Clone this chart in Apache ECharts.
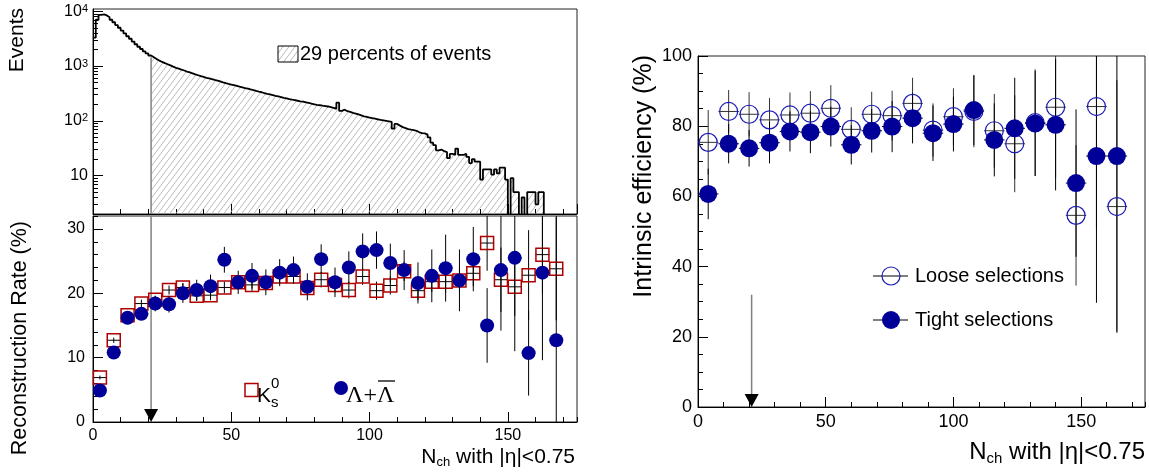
<!DOCTYPE html>
<html>
<head>
<meta charset="utf-8">
<script src="https://cdn.jsdelivr.net/npm/echarts@6/dist/echarts.min.js"></script>
<style>
html, body { margin: 0; padding: 0; background: #fff; }
#chart { width: 1149px; height: 475px; }
</style>
</head>
<body>
<div id="chart"></div>
<script>
// events per unit bin of N_ch, bin i covers [i, i+1)
var histEvents = [
  3300, 7000, 8600, 8800, 8400, 7800, 7000, 6300, 5600, 5000,
  4450, 3950, 3500, 3150, 2800, 2500, 2250, 2050, 1850, 1700,
  1560, 1450, 1340, 1260, 1190, 1130, 1080, 1030, 975, 930,
  895, 860, 830, 795, 765, 735, 705, 680, 655, 635,
  610, 595, 578, 560, 545, 525, 505, 488, 472, 460,
  448, 435, 422, 410, 398, 388, 376, 365, 352, 342,
  333, 322, 312, 304, 296, 287, 280, 272, 264, 257,
  250, 244, 239, 233, 228, 224, 218, 212, 206, 201,
  196, 193, 189, 186, 183, 178, 172, 166, 215, 152,
  160, 150, 146, 140, 136, 131, 126, 121, 118, 115,
  112, 110, 107, 104, 102, 100, 98, 96, 72, 88,
  82, 77, 74, 71, 69, 68, 66, 62, 60, 59,
  56, 50, 40, 36, 29, 30, 28, 27, 21, 25,
  24, 31, 24, 24, 25, 22, 17, 20, 18, 18,
  8.5, 13, 13, 13, 10.5, 13, 11, 14, 14, 8.5,
  0, 9, 5, 5, 0, 4, 0, 5, 5, 5,
  3, 5, 5, 0, 0, 0, 0, 0, 0, 0,
  0, 0, 0, 0, 0
];
var cutNch = 21;
var logMajorTicks = [10, 100, 1000, 10000];
var logMinorTicks = [2, 3, 4, 5, 6, 7, 8, 9, 20, 30, 40, 50, 60, 70, 80, 90,
  200, 300, 400, 500, 600, 700, 800, 900, 2000, 3000, 4000, 5000, 6000, 7000, 8000, 9000];

// reconstruction rate vs N_ch (bins of 5)
var rateNch = [2.5, 7.5, 12.5, 17.5, 22.5, 27.5, 32.5, 37.5, 42.5, 47.5,
  52.5, 57.5, 62.5, 67.5, 72.5, 77.5, 82.5, 87.5, 92.5, 97.5,
  102.5, 107.5, 112.5, 117.5, 122.5, 127.5, 132.5, 137.5, 142.5, 147.5,
  152.5, 157.5, 162.5, 167.5];
var k0sRate = [6.9, 12.7, 16.6, 18.4, 19.0, 20.5, 20.9, 19.6, 19.7, 20.9,
  21.7, 21.3, 21.6, 22.6, 22.6, 20.8, 22.1, 21.3, 20.5, 22.6,
  20.4, 21.2, 23.4, 20.4, 21.8, 21.8, 22.0, 23.1, 27.8, 22.1,
  21.0, 22.8, 26.0, 23.8];
var k0sErr = [0.3, 0.4, 0.5, 0.6, 0.6, 0.7, 0.7, 0.8, 0.8, 0.9,
  0.9, 1.0, 1.0, 1.0, 1.1, 1.1, 1.2, 1.2, 1.3, 1.3,
  1.4, 1.4, 1.5, 1.5, 1.6, 1.7, 1.8, 2.0, 4.3, 5.0,
  4.5, 7.0, 6.0, 8.0];
var lambdaRate = [4.9, 10.8, 16.2, 16.8, 18.4, 18.3, 20.0, 20.5, 21.1, 25.2,
  21.7, 22.7, 21.7, 23.2, 23.6, 21.0, 25.3, 21.7, 24.0, 26.5,
  26.7, 24.7, 23.6, 21.6, 22.7, 23.9, 22.0, 25.3, 15.0, 23.6,
  25.5, 10.7, 23.2, 12.7];
var lambdaErr = [0.3, 0.5, 0.8, 0.9, 1.2, 1.3, 1.5, 1.6, 1.8, 2.0,
  1.8, 2.0, 2.0, 2.1, 2.1, 2.1, 2.3, 2.3, 2.5, 2.8,
  2.9, 3.0, 3.1, 3.2, 4.1, 5.2, 4.8, 5.0, 5.8, 9.4,
  14.5, 6.6, 13.6, 22.0];

// intrinsic efficiency vs N_ch (bins of 8)
var effNch = [4, 12, 20, 28, 36, 44, 52, 60, 68, 76, 84, 92, 100, 108, 116, 124, 132, 140, 148, 156, 164];
var looseEff = [75.4, 84.2, 83.4, 81.8, 83.2, 83.7, 85.1, 79.1, 83.4, 83.0,
  86.5, 78.9, 82.7, 84.2, 78.7, 75.0, 81.0, 85.4, 54.6, 85.6, 57.1];
var looseErr = [9.2, 6.1, 6.3, 6.2, 6.4, 6.3, 6.6, 6.3, 6.4, 7.1,
  7.3, 7.6, 8.1, 10.2, 10.5, 13.8, 15.2, 20.0, 20.0, 35.0, 36.0];
var tightEff = [60.7, 75.0, 73.7, 75.3, 78.5, 78.3, 79.9, 74.7, 78.7, 79.9,
  82.3, 78.0, 80.6, 84.6, 76.1, 79.4, 80.8, 80.4, 63.8, 71.5, 71.5];
var tightErr = [7.2, 5.6, 5.2, 5.9, 5.7, 6.0, 5.7, 5.6, 6.2, 7.3,
  7.2, 7.9, 7.8, 10.0, 10.4, 14.4, 15.0, 18.7, 21.0, 41.8, 50.0];
var arrowTop = 32;

var FONT = "'Liberation Sans', Arial, sans-serif";
var BLUE = '#000099';
var RED = '#b00000';

// hatch pattern for the selected part of the histogram
var hatch = document.createElement('canvas');
hatch.width = 6;
hatch.height = 8;
var hc = hatch.getContext('2d');
hc.strokeStyle = '#a8a8a8';
hc.lineWidth = 0.8;
hc.beginPath();
hc.moveTo(0, 8); hc.lineTo(6, 0);
hc.moveTo(-1, 1.33); hc.lineTo(1, -1.33);
hc.moveTo(5, 9.33); hc.lineTo(7, 6.67);
hc.stroke();
var hatchFill = { image: hatch, repeat: 'repeat' };

function pairs(xs, ys, es) {
  return xs.map(function (x, i) { return es ? [x, ys[i], es[i]] : [x, ys[i]]; });
}

var histLine = histEvents.map(function (v, i) { return [i, v > 0 ? v : 1]; });
histLine.push([histEvents.length, 1]);
var histSel = histLine.filter(function (p) { return p[0] >= cutNch; });

function errorBars(halfWidth, color) {
  return function (params, api) {
    var x = api.value(0), y = api.value(1), e = api.value(2);
    var top = api.coord([x, y + e]), bot = api.coord([x, y - e]);
    var l = api.coord([x - halfWidth, y]), r = api.coord([x + halfWidth, y]);
    return {
      type: 'group',
      children: [
        { type: 'line', shape: { x1: top[0], y1: top[1], x2: bot[0], y2: bot[1] }, style: { stroke: color, lineWidth: 1 } },
        { type: 'line', shape: { x1: l[0], y1: l[1], x2: r[0], y2: r[1] }, style: { stroke: color, lineWidth: 1 } }
      ]
    };
  };
}

function arrowItem(params, api) {
  var cs = params.coordSys;
  var bottom = api.coord([api.value(0), 0]);
  var topY = api.value(1) > 0 ? api.coord([api.value(0), api.value(1)])[1] : cs.y;
  var x = bottom[0];
  return {
    type: 'group',
    children: [
      { type: 'line', shape: { x1: x, y1: topY, x2: x, y2: bottom[1] - 10 }, style: { stroke: '#808080', lineWidth: 1.5 } },
      { type: 'polygon', shape: { points: [[x - 7, bottom[1] - 13], [x + 7, bottom[1] - 13], [x, bottom[1]]] }, style: { fill: '#000' } }
    ]
  };
}

function xMajor(grid, showLabel, fontSize) {
  return {
    type: 'value', gridIndex: grid, position: 'bottom', min: 0, max: 175, interval: 50,
    axisLine: { onZero: false, lineStyle: { color: '#000', width: 1 } },
    axisTick: { inside: true, length: 10, lineStyle: { color: '#000' } },
    axisLabel: { show: showLabel, fontFamily: FONT, fontSize: fontSize, color: '#000', margin: 6, showMaxLabel: false },
    splitLine: { show: false }
  };
}
function xMinor(grid) {
  return {
    type: 'value', gridIndex: grid, position: 'bottom', min: 0, max: 175, interval: 10,
    axisLine: { show: false }, axisLabel: { show: false }, splitLine: { show: false },
    axisTick: { inside: true, length: 5, lineStyle: { color: '#000' } }
  };
}
function yLin(grid, max, interval, len, showLabel, fontSize, margin) {
  return {
    type: 'value', gridIndex: grid, position: 'left', min: 0, max: max, interval: interval,
    axisLine: { show: showLabel, onZero: false, lineStyle: { color: '#000', width: 1 } },
    axisTick: { inside: true, length: len, lineStyle: { color: '#000' } },
    axisLabel: { show: showLabel, fontFamily: FONT, fontSize: fontSize, color: '#000', margin: margin, showMaxLabel: max % interval === 0 },
    splitLine: { show: false }
  };
}

var gridBase = { show: true, borderColor: '#222', borderWidth: 1, backgroundColor: 'transparent', containLabel: false, outerBoundsMode: 'none' };

var option = {
  animation: false,
  backgroundColor: '#fff',
  grid: [
    Object.assign({ left: 93, top: 9, width: 484, height: 205 }, gridBase),
    Object.assign({ left: 93, top: 216, width: 484, height: 206 }, gridBase),
    Object.assign({ left: 698, top: 56, width: 447, height: 351 }, gridBase)
  ],
  xAxis: [
    xMajor(0, false, 16), xMinor(0),
    xMajor(1, true, 16), xMinor(1),
    xMajor(2, true, 18), xMinor(2)
  ],
  yAxis: [
    {
      type: 'log', gridIndex: 0, position: 'left', min: 2, max: 11000, logBase: 10,
      axisLine: { onZero: false, lineStyle: { color: '#000' } },
      axisTick: { inside: true, length: 10, customValues: logMajorTicks, lineStyle: { color: '#000' } },
      axisLabel: {
        customValues: logMajorTicks, margin: 5, color: '#000', fontFamily: FONT, fontSize: 16,
        formatter: function (v) {
          var n = Math.round(Math.log(v) / Math.LN10);
          return n === 1 ? '10' : '10{sup|' + n + '}';
        },
        rich: { sup: { fontSize: 11, fontFamily: FONT, color: '#000', verticalAlign: 'top', lineHeight: 10 } }
      },
      splitLine: { show: false }
    },
    {
      type: 'log', gridIndex: 0, position: 'left', min: 2, max: 11000, logBase: 10,
      axisLine: { show: false }, axisLabel: { show: false }, splitLine: { show: false },
      axisTick: { inside: true, length: 5, customValues: logMinorTicks, lineStyle: { color: '#000' } }
    },
    yLin(1, 32, 10, 10, true, 16, 8),
    yLin(1, 32, 2, 5, false, 16, 8),
    yLin(2, 100, 20, 10, true, 18, 6),
    yLin(2, 100, 5, 5, false, 18, 6)
  ],
  series: [
    {
      type: 'line', xAxisIndex: 0, yAxisIndex: 0, step: 'end', data: histSel,
      showSymbol: false, symbol: 'none', lineStyle: { width: 0 },
      areaStyle: { color: hatchFill, opacity: 1, origin: 'start' }, z: 2, silent: true
    },
    {
      type: 'line', xAxisIndex: 0, yAxisIndex: 0, step: 'end', data: histLine,
      showSymbol: false, symbol: 'none', lineStyle: { color: '#000', width: 1.8 }, z: 4, silent: true
    },
    {
      type: 'custom', xAxisIndex: 0, yAxisIndex: 0, data: [[cutNch, histEvents[cutNch]]],
      encode: { x: 0, y: 1 }, z: 3, silent: true,
      renderItem: function (params, api) {
        var cs = params.coordSys;
        var p = api.coord([api.value(0), api.value(1)]);
        return { type: 'line', shape: { x1: p[0], y1: cs.y + cs.height, x2: p[0], y2: p[1] }, style: { stroke: '#808080', lineWidth: 1.5 } };
      }
    },
    {
      type: 'custom', xAxisIndex: 2, yAxisIndex: 2, data: [[cutNch, 0]], encode: { x: 0, y: 1 },
      renderItem: arrowItem, z: 2, silent: true
    },
    {
      type: 'custom', xAxisIndex: 2, yAxisIndex: 2, data: pairs(rateNch, k0sRate, k0sErr), encode: { x: 0, y: 1 },
      renderItem: errorBars(2.5, '#000'), clip: true, z: 3, silent: true
    },
    {
      name: 'K0s', type: 'scatter', xAxisIndex: 2, yAxisIndex: 2, data: pairs(rateNch, k0sRate),
      symbol: 'rect', symbolSize: 13, itemStyle: { color: 'rgba(255,255,255,0)', borderColor: RED, borderWidth: 1.5, opacity: 1 }, z: 4
    },
    {
      type: 'custom', xAxisIndex: 2, yAxisIndex: 2, data: pairs(rateNch, lambdaRate, lambdaErr), encode: { x: 0, y: 1 },
      renderItem: errorBars(2.5, '#000'), clip: true, z: 5, silent: true
    },
    {
      name: 'Lambda', type: 'scatter', xAxisIndex: 2, yAxisIndex: 2, data: pairs(rateNch, lambdaRate),
      symbol: 'circle', symbolSize: 14, itemStyle: { color: BLUE, opacity: 1 }, z: 6
    },
    {
      type: 'custom', xAxisIndex: 4, yAxisIndex: 4, data: [[cutNch, arrowTop]], encode: { x: 0, y: 1 },
      renderItem: arrowItem, z: 2, silent: true
    },
    {
      type: 'custom', xAxisIndex: 4, yAxisIndex: 4, data: pairs(effNch, looseEff, looseErr), encode: { x: 0, y: 1 },
      renderItem: errorBars(4, '#333'), clip: true, z: 3, silent: true
    },
    {
      type: 'custom', xAxisIndex: 4, yAxisIndex: 4, data: pairs(effNch, tightEff, tightErr), encode: { x: 0, y: 1 },
      renderItem: errorBars(4, '#000'), clip: true, z: 3, silent: true
    },
    {
      name: 'Loose selections', type: 'scatter', xAxisIndex: 4, yAxisIndex: 4, data: pairs(effNch, looseEff),
      symbol: 'circle', symbolSize: 18, itemStyle: { color: 'rgba(255,255,255,0)', borderColor: '#1a1ab4', borderWidth: 1.2, opacity: 1 }, z: 4
    },
    {
      name: 'Tight selections', type: 'scatter', xAxisIndex: 4, yAxisIndex: 4, data: pairs(effNch, tightEff),
      symbol: 'circle', symbolSize: 18, itemStyle: { color: BLUE, opacity: 1 }, z: 5
    }
  ],
  graphic: [
    // axis titles
    { type: 'text', x: 17, y: 8, rotation: Math.PI / 2, style: { text: 'Events', font: "21px 'Liberation Sans'", fill: '#000', align: 'right', verticalAlign: 'middle' } },
    { type: 'text', x: 20, y: 221, rotation: Math.PI / 2, style: { text: 'Reconstruction Rate (%)', font: "21.5px 'Liberation Sans'", fill: '#000', align: 'right', verticalAlign: 'middle' } },
    { type: 'text', x: 644, y: 55, rotation: Math.PI / 2, style: { text: 'Intrinsic efficiency (%)', font: "25px 'Liberation Sans'", fill: '#000', align: 'right', verticalAlign: 'middle' } },
    {
      type: 'text', x: 575, y: 457, style: {
        text: '{n|N}{s|ch}{n| with |η|<0.75}', align: 'right', verticalAlign: 'middle',
        rich: { n: { font: "21px 'Liberation Sans'", fill: '#000', lineHeight: 24 }, s: { font: "13px 'Liberation Sans'", fill: '#000', verticalAlign: 'bottom', lineHeight: 12 } }
      }
    },
    {
      type: 'text', x: 1145, y: 452, style: {
        text: '{n|N}{s|ch}{n| with |η|<0.75}', align: 'right', verticalAlign: 'middle',
        rich: { n: { font: "24px 'Liberation Sans'", fill: '#000', lineHeight: 28 }, s: { font: "15px 'Liberation Sans'", fill: '#000', verticalAlign: 'bottom', lineHeight: 14 } }
      }
    },
    // histogram legend
    { type: 'rect', shape: { x: 278, y: 46, width: 20, height: 16 }, style: { fill: hatchFill, stroke: '#000', lineWidth: 1 } },
    { type: 'text', x: 300, y: 54, style: { text: '29 percents of events', font: "20px 'Liberation Sans'", fill: '#000', verticalAlign: 'middle' } },
    // rate legend
    { type: 'rect', shape: { x: 245, y: 383.5, width: 13, height: 13 }, style: { fill: 'none', stroke: RED, lineWidth: 1.5 } },
    { type: 'text', x: 257, y: 396, style: { text: 'K', font: "21px 'Liberation Sans'", fill: '#000', verticalAlign: 'middle' } },
    { type: 'text', x: 271, y: 384, style: { text: '0', font: "15px 'Liberation Sans'", fill: '#000', verticalAlign: 'middle' } },
    { type: 'text', x: 271, y: 403, style: { text: 's', font: "15px 'Liberation Sans'", fill: '#000', verticalAlign: 'middle' } },
    { type: 'circle', shape: { cx: 341, cy: 388, r: 7 }, style: { fill: BLUE } },
    { type: 'text', x: 346, y: 396, style: { text: 'Λ+Λ', font: "24px 'Liberation Serif'", fill: '#000', verticalAlign: 'middle' } },
    { type: 'line', shape: { x1: 378, y1: 381, x2: 395, y2: 381 }, style: { stroke: '#000', lineWidth: 1.3 } },
    // efficiency legend
    { type: 'line', shape: { x1: 873, y1: 276, x2: 908, y2: 276 }, style: { stroke: '#000', lineWidth: 1 } },
    { type: 'circle', shape: { cx: 891, cy: 276, r: 9 }, style: { fill: 'none', stroke: '#1a1ab4', lineWidth: 1.2 } },
    { type: 'text', x: 915, y: 276, style: { text: 'Loose selections', font: "20px 'Liberation Sans'", fill: '#000', verticalAlign: 'middle' } },
    { type: 'line', shape: { x1: 873, y1: 320, x2: 908, y2: 320 }, style: { stroke: '#000', lineWidth: 1 } },
    { type: 'circle', shape: { cx: 891, cy: 320, r: 9 }, style: { fill: BLUE } },
    { type: 'text', x: 915, y: 320, style: { text: 'Tight selections', font: "20px 'Liberation Sans'", fill: '#000', verticalAlign: 'middle' } }
  ]
};

var chart = echarts.init(document.getElementById('chart'));
chart.setOption(option);
</script>
</body>
</html>
